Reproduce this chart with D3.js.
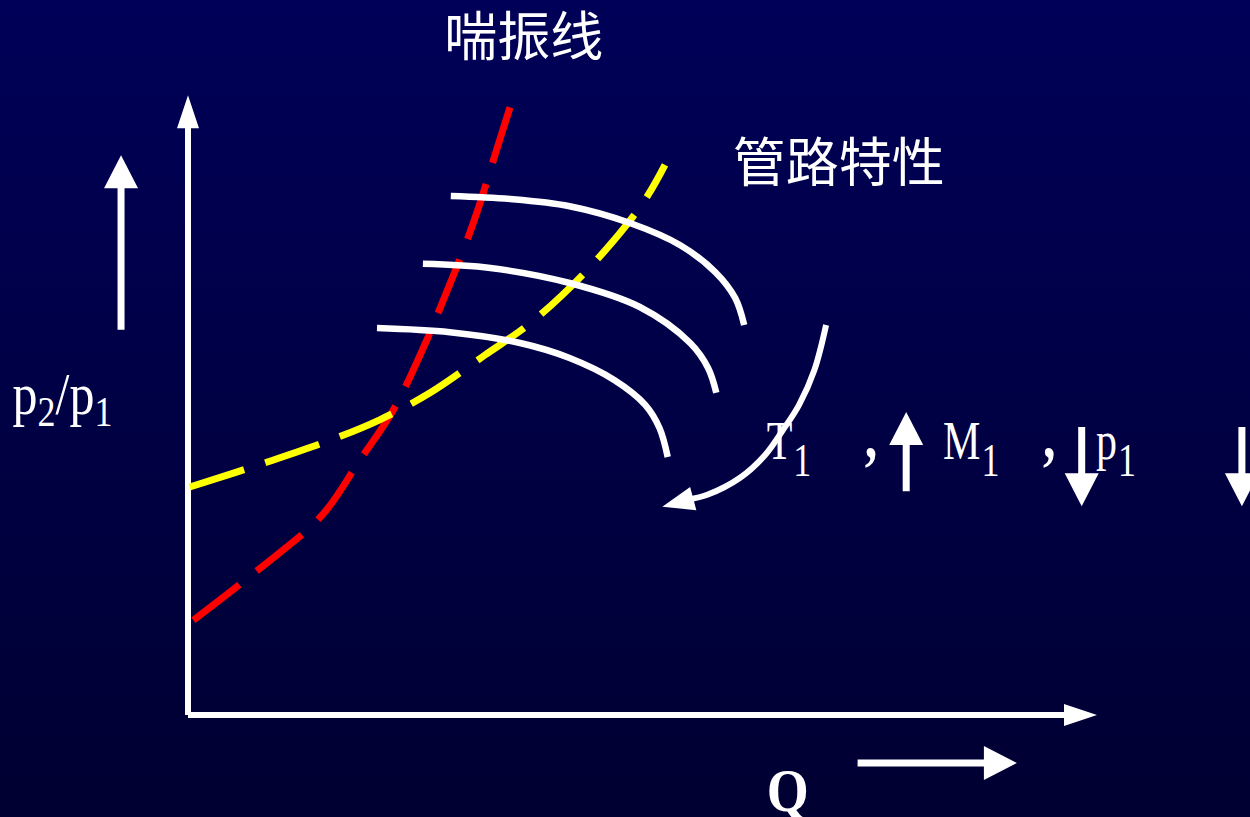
<!DOCTYPE html>
<html>
<head>
<meta charset="utf-8">
<script src="https://cdn.jsdelivr.net/npm/d3@7"></script>
<style>
  body { margin: 0; background: #000040; overflow: hidden; }
  svg { display: block; }
</style>
</head>
<body>
<svg id="chart"></svg>
<script>
const width = 1250;
const height = 817;

// curves, in chart units (Q along x, p2/p1 along y)
const surgeLine = [[0.6, 15.8], [7.8, 24.2], [14.9, 33.3], [19.1, 42.5], [22.8, 50.8], [26.3, 61.7], [28.6, 70], [30.4, 76.7], [32.2, 84.2], [34.1, 93.3], [36.1, 102.8]];
const pipeLine = [[0.2, 38], [8.9, 42.2], [15.8, 45.8], [21.3, 49.2], [26.9, 53.7], [33, 60], [38.2, 65.5], [44.7, 74.7], [50.4, 85], [53, 91.7]];
const speedLine1 = [[29.2, 86.5], [35.8, 86], [42.4, 84.8], [49.1, 82], [54.7, 78.3], [58.6, 73.8], [60.8, 69.5], [61.8, 65]];
const speedLine2 = [[26.1, 75.2], [33.6, 74.5], [42.4, 72], [50.2, 68], [55.8, 62], [57.8, 57.8], [58.7, 53.7]];
const speedLine3 = [[21, 64.5], [29.1, 63.8], [36.9, 62], [42.4, 59.5], [47.4, 55.8], [50.8, 51.7], [52.4, 47.8], [53.3, 43]];
const trendArrow = [[70.9, 65], [69.6, 57.5], [67.9, 51.7], [66.1, 47.5], [64.1, 43.3], [61.3, 39.5], [57.7, 36.7], [55.6, 35.9]];
const trendTip = [52.7, 34.7];

// straight arrows: [x1, y1, x2 (tip), y2 (tip)]
const axisArrows = [[0, 0, 0, 103.3], [0, 0, 101, 0]];
const sideArrows = [[-7.44, 64.2, -7.44, 93.3], [74.4, -8, 92.1, -8], [79.8, 37.3, 79.8, 50.5], [99.3, 48, 99.3, 34.8], [117.1, 48, 117.1, 34.8]];

const titleLabels = [{ text: "喘振线", x: 37.3, y: 109.8 }, { text: "管路特性", x: 72.3, y: 88.9 }];
const subLabels = [
  { main: "T", sub: "1", x: 64.3, y: 42.7 },
  { main: "M", sub: "1", x: 83.9, y: 42.7 },
  { main: "p", sub: "1", x: 100.9, y: 42.7 }
];
const commas = [{ x: 75.2, y: 42.9 }, { x: 95.0, y: 42.9 }];

const x = d3.scaleLinear().domain([0, 100]).range([188, 1088]);
const y = d3.scaleLinear().domain([0, 100]).range([715, 115]);

const svg = d3.select("#chart").attr("width", width).attr("height", height);

const grad = svg.append("defs").append("linearGradient")
  .attr("id", "bg").attr("x1", 0).attr("y1", 0).attr("x2", 0).attr("y2", 1);
grad.append("stop").attr("offset", 0).attr("stop-color", "#000058");
grad.append("stop").attr("offset", 1).attr("stop-color", "#000032");
svg.append("rect").attr("width", width).attr("height", height).attr("fill", "url(#bg)");

const line = d3.line().x((d) => x(d[0])).y((d) => y(d[1])).curve(d3.curveCatmullRom);

// arrow polygon from pixel points
function arrowShape(x1, y1, x2, y2, shaft, headLen, headW) {
  const dx = x2 - x1, dy = y2 - y1;
  const len = Math.hypot(dx, dy);
  const ux = dx / len, uy = dy / len;
  const nx = -uy, ny = ux;
  const bx = x2 - ux * headLen, by = y2 - uy * headLen;
  const s = shaft / 2, h = headW / 2;
  return [
    [x1 + nx * s, y1 + ny * s], [bx + nx * s, by + ny * s], [bx + nx * h, by + ny * h],
    [x2, y2], [bx - nx * h, by - ny * h], [bx - nx * s, by - ny * s], [x1 - nx * s, y1 - ny * s]
  ];
}

// axes
svg.selectAll(".axis")
  .data(axisArrows)
  .join("polygon")
  .attr("class", "axis")
  .attr("fill", "#fff")
  .attr("points", (d) => arrowShape(x(d[0]), y(d[1]), x(d[2]), y(d[3]), 6, 33, 22).join(" "));

// surge and pipe lines
svg.append("path").datum(surgeLine).attr("d", line)
  .attr("fill", "none").attr("stroke", "#ff0000").attr("stroke-width", 7)
  .attr("stroke-dasharray", "58,22");
svg.append("path").datum(pipeLine).attr("d", line)
  .attr("fill", "none").attr("stroke", "#ffff00").attr("stroke-width", 7)
  .attr("stroke-dasharray", "57,22");

// speed lines
svg.selectAll(".speed")
  .data([speedLine1, speedLine2, speedLine3])
  .join("path")
  .attr("class", "speed")
  .attr("d", line)
  .attr("fill", "none").attr("stroke", "#fff").attr("stroke-width", 6.5);

// curved trend arrow
svg.append("path").datum(trendArrow).attr("d", line)
  .attr("fill", "none").attr("stroke", "#fff").attr("stroke-width", 6);
const last = trendArrow[trendArrow.length - 2];
const head = arrowShape(x(last[0]), y(last[1]), x(trendTip[0]), y(trendTip[1]), 0, 32, 24).slice(1, 6);
svg.append("polygon").attr("fill", "#fff").attr("points", head.join(" "));

// side arrows
svg.selectAll(".side")
  .data(sideArrows)
  .join("polygon")
  .attr("class", "side")
  .attr("fill", "#fff")
  .attr("points", (d) => arrowShape(x(d[0]), y(d[1]), x(d[2]), y(d[3]), 7, 33, 34).join(" "));

// chinese labels
svg.selectAll(".title")
  .data(titleLabels)
  .join("text")
  .attr("class", "title")
  .attr("x", (d) => x(d.x)).attr("y", (d) => y(d.y))
  .attr("text-anchor", "middle")
  .attr("fill", "#fff")
  .style("font-family", "'Noto Sans CJK SC', sans-serif")
  .style("font-size", "53px")
  .text((d) => d.text);

// subscripted serif labels, stretched tall like the original slide
const serif = "'Liberation Serif', 'DejaVu Serif', serif";
const sub = svg.selectAll(".sub")
  .data(subLabels)
  .join("text")
  .attr("class", "sub")
  .attr("transform", (d) => `translate(${x(d.x)},${y(d.y)}) scale(1,1.3)`)
  .attr("fill", "#fff")
  .style("font-family", serif)
  .style("font-size", "42px");
sub.append("tspan").text((d) => d.main);
sub.append("tspan").attr("dx", 1).attr("dy", 13).style("font-size", "36px").text((d) => d.sub);

svg.selectAll(".comma")
  .data(commas)
  .join("text")
  .attr("class", "comma")
  .attr("transform", (d) => `translate(${x(d.x)},${y(d.y)}) scale(1,1.3)`)
  .attr("fill", "#fff")
  .style("font-family", serif)
  .style("font-size", "50px")
  .style("font-weight", "bold")
  .text(",");

// y label p2/p1
const yl = svg.append("text")
  .attr("transform", `translate(${x(-19.5)},${y(50.2)}) scale(1,1.2)`)
  .attr("fill", "#fff")
  .style("font-family", serif)
  .style("font-size", "50px");
yl.append("tspan").text("p");
yl.append("tspan").attr("dy", 10).style("font-size", "36px").text("2");
yl.append("tspan").attr("dy", -10).text("/p");
yl.append("tspan").attr("dy", 10).style("font-size", "36px").text("1");

// x label Q
svg.append("text")
  .attr("transform", `translate(${x(64.3)},${y(-16)}) scale(1,1.15)`)
  .attr("fill", "#fff")
  .style("font-family", serif)
  .style("font-size", "54px")
  .style("font-weight", "bold")
  .text("Q");
</script>
</body>
</html>
